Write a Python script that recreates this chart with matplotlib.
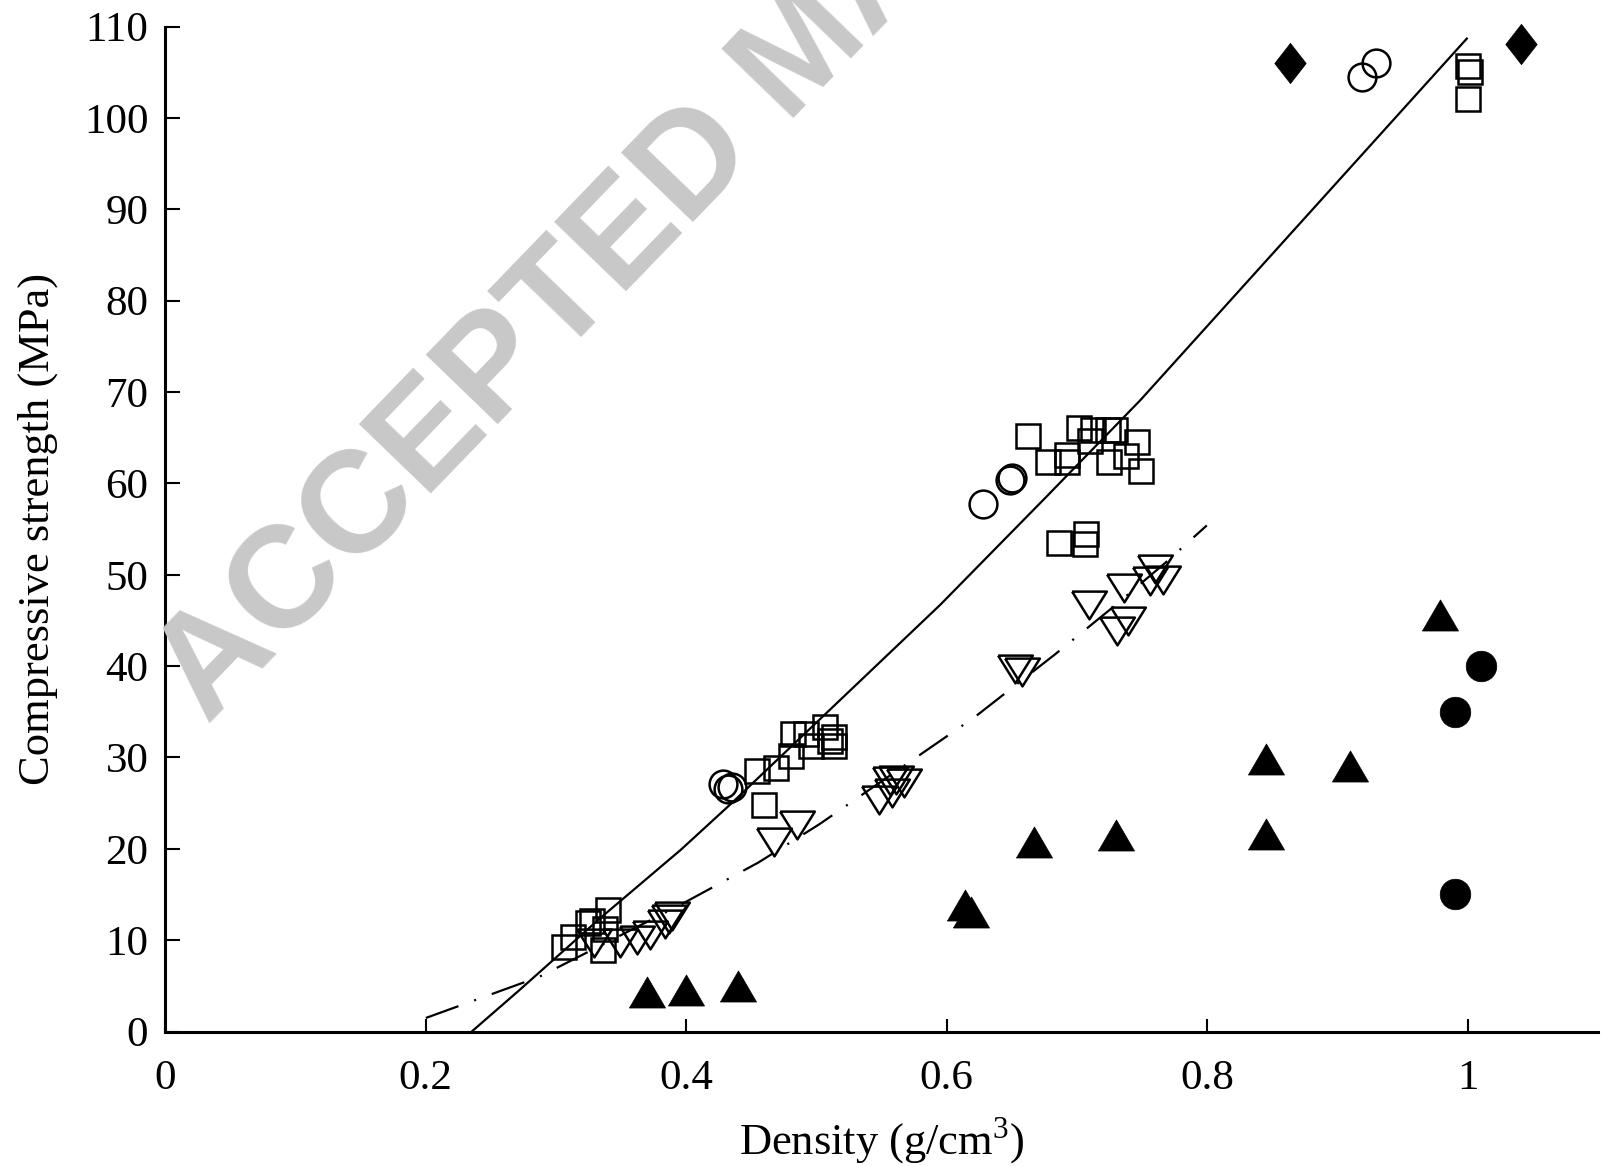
import matplotlib
matplotlib.use("Agg")
import matplotlib.pyplot as plt

plt.rcParams['font.family'] = ['Liberation Serif', 'DejaVu Serif']
plt.rcParams['mathtext.fontset'] = 'custom'
plt.rcParams['mathtext.rm'] = 'Liberation Serif'
plt.rcParams['lines.scale_dashes'] = False

# ---- data ----
sq_x = [0.306, 0.313, 0.325, 0.328, 0.340, 0.336, 0.338,
        0.460, 0.4548, 0.4689, 0.4809, 0.4817, 0.4924, 0.4957, 0.5067, 0.5136, 0.5136, 0.5105,
        0.6628, 0.678, 0.6923, 0.6923, 0.7017, 0.7097, 0.7122, 0.7235, 0.7294, 0.7246, 0.7375, 0.7465, 0.749,
        0.6864, 0.7069, 0.7063,
        1.000, 1.002, 1.000]
sq_y = [9.3, 10.4, 11.9, 12.1, 13.3, 8.9, 11.2,
        24.8, 28.5, 28.8, 30.2, 32.6, 32.6, 31.3, 33.3, 32.2, 31.3, 31.8,
        65.2, 62.3, 63.1, 62.3, 66.1, 64.6, 65.8, 65.8, 65.8, 62.3, 63.0, 64.5, 61.4,
        53.5, 54.45, 53.4,
        105.7, 105.0, 102.1]

oc_x = [0.428, 0.432, 0.435, 0.6278, 0.6488, 0.650, 0.9187, 0.9295]
oc_y = [27.1, 26.6, 26.8, 57.8, 60.4, 60.55, 104.5, 106.0]

dt_x = [0.329, 0.349, 0.362, 0.372, 0.384, 0.387, 0.389,
        0.4676, 0.485, 0.5477, 0.5566, 0.5579, 0.5669, 0.561,
        0.6526, 0.6577, 0.709, 0.7358, 0.7305, 0.7395, 0.760, 0.756, 0.766]
dt_y = [9.7, 9.7, 10.0, 10.6, 11.8, 12.3, 12.6,
        20.8, 22.6, 25.3, 27.45, 26.1, 27.2, 27.5,
        39.7, 39.35, 46.7, 48.6, 43.8, 44.9, 50.65, 49.3, 49.4]

ft_x = [0.370, 0.400, 0.440, 0.614, 0.619, 0.667, 0.730, 0.8453, 0.8453, 0.910, 0.979]
ft_y = [4.36, 4.54, 4.98, 13.8, 13.1, 20.7, 21.5, 29.8, 21.6, 29.1, 45.6]

fc_x = [0.99, 1.01, 0.99]
fc_y = [35.0, 40.0, 15.0]

fd_x = [0.8632, 1.041]
fd_y = [106.0, 108.1]

fit1_x = [0.2355, 0.2718, 0.334, 0.396, 0.435, 0.595, 0.6756, 0.7486, 0.9993]
fit1_y = [0.0, 4.5, 12.4, 19.9, 25.0, 46.7, 58.4, 69.1, 108.7]

fit2_x = [0.2002, 0.2872, 0.3954, 0.4555, 0.5024, 0.6219, 0.6833, 0.7255, 0.7678, 0.7997]
fit2_y = [1.48, 5.98, 13.85, 18.5, 22.7, 34.46, 41.3, 46.2, 51.3, 55.4]

xticks = [0, 0.2, 0.4, 0.6, 0.8, 1]
xticklabels = ['0', '0.2', '0.4', '0.6', '0.8', '1']
yticks = list(range(0, 111, 10))

# ---- figure ----
fig = plt.figure(figsize=(16.01, 11.66), dpi=100)
ax = fig.add_axes([165/1601, 1 - 1031.5/1166, (1598 - 165)/1601, (1031.5 - 26.7)/1166])

# watermark
fig.text(203/1568, 1 - 710/1142, 'ACCEPTED MANUSCRIPT', family=['Liberation Sans', 'DejaVu Sans'],
         weight='bold', fontsize=104, color='#c8c8c8', rotation=46,
         rotation_mode='anchor', ha='left', va='baseline', zorder=0)
ax.patch.set_alpha(0)

lw = 1.6
ax.plot(fit1_x, fit1_y, color='black', lw=lw, zorder=2)
ax.plot(fit2_x, fit2_y, color='black', lw=lw, linestyle=(0, (25, 12, 1.5, 12)), zorder=2)

edge = 1.8
down_tri = [(-1, 0.8), (1, 0.8), (0, -0.8), (-1, 0.8)]
up_tri = [(-1, -0.86), (1, -0.86), (0, 0.86), (-1, -0.86)]
diamond = [(0, 1), (0.78, 0), (0, -1), (-0.78, 0), (0, 1)]

ax.plot(sq_x, sq_y, ls='none', marker='s', ms=17, mfc='none', mec='black', mew=edge, clip_on=False, zorder=3)
ax.plot(oc_x, oc_y, ls='none', marker='o', ms=20, mfc='none', mec='black', mew=edge, clip_on=False, zorder=3)
ax.plot(dt_x, dt_y, ls='none', marker=down_tri, ms=25, mfc='none', mec='black', mew=edge, clip_on=False, zorder=3)
ax.plot(ft_x, ft_y, ls='none', marker=up_tri, ms=26, mfc='black', mec='black', mew=0.5, clip_on=False, zorder=3)
ax.plot(fc_x, fc_y, ls='none', marker='o', ms=22, mfc='black', mec='black', mew=0.5, clip_on=False, zorder=3)
ax.plot(fd_x, fd_y, ls='none', marker=diamond, ms=29, mfc='black', mec='black', mew=0.5, clip_on=False, zorder=3)

ax.set_xlim(0, 1.1)
ax.set_ylim(0, 110)
ax.set_xticks(xticks)
ax.set_xticklabels(xticklabels)
ax.set_yticks(yticks)
for s in ['top', 'right']:
    ax.spines[s].set_visible(False)
for s in ['left', 'bottom']:
    ax.spines[s].set_linewidth(2.2)
ax.tick_params(axis='x', direction='in', length=9.5, width=1.5, pad=20, labelsize=31)
ax.tick_params(axis='y', direction='in', length=11, width=1.5, pad=12, labelsize=31)

ax.set_xlabel('Density (g/cm$^3$)', fontsize=32)
ax.set_ylabel('Compressive strength (MPa)', fontsize=32)
ax.xaxis.set_label_coords(0.5, -0.084)
ax.yaxis.set_label_coords(-0.0745, 0.5)

fig.savefig('out.png', dpi=100)
